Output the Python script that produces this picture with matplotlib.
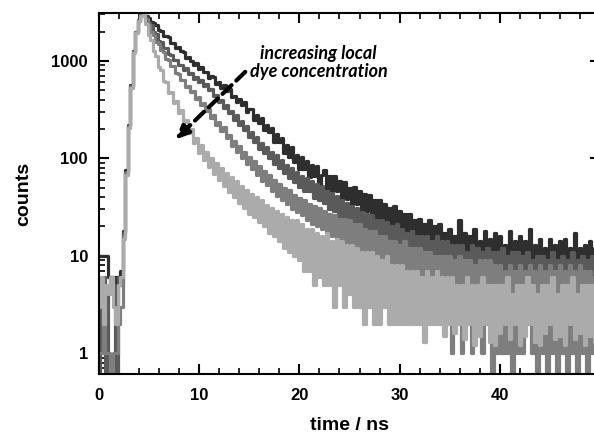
import numpy as np
import matplotlib.pyplot as plt
from matplotlib.ticker import MultipleLocator, LogLocator, NullFormatter

# TCSPC bins, 0.25 ns wide, 0 .. 49.75 ns
time_ns = np.arange(200) * 0.25

# counts (darkest = lowest dye concentration)
counts_1 = [
    10, 10, 10, 10, 6, 6, 5, 6, 6, 7, 18, 75, 220, 560, 1250, 2000, 2600, 2950, 3000, 2860,
    2740, 2490, 2420, 2320, 2050, 2020, 1810, 1820, 1740, 1540, 1510, 1360, 1390, 1250, 1245, 1080, 1100, 1005, 910, 950,
    830, 865, 760, 775, 670, 700, 685, 580, 600, 525, 560, 485, 515, 425, 440, 377, 410, 350, 375, 302,
    320, 317, 245, 280, 230, 257, 195, 222, 185, 203, 147, 177, 147, 163, 114, 138, 103, 129, 92, 108,
    77, 102, 77, 93, 64, 85, 66, 83, 55, 68, 75, 48, 66, 46, 66, 46, 59, 38, 57, 38,
    50, 34, 51, 34, 46, 27, 43, 29, 42, 24, 37, 23, 37, 23, 34, 19, 31, 19, 32, 18,
    29, 16, 27, 17, 27, 14, 23, 13, 24, 14, 21, 11, 23, 11, 20, 11, 21, 10, 17, 8,
    19, 11, 16, 8, 23, 9, 17, 8, 16, 11, 19, 9, 14, 7, 18, 9, 15, 8, 17, 10,
    16, 7, 13, 8, 18, 8, 14, 7, 16, 9, 14, 6, 19, 7, 13, 8, 15, 6, 12, 7,
    15, 8, 13, 6, 14, 7, 15, 8, 12, 6, 17, 7, 12, 6, 13, 7, 14, 6, 12, 7]
counts_2 = [
    0, 5, 6, 0, 4, 6, 5, 0, 6, 5, 17, 72, 215, 550, 1230, 1980, 2580, 2940, 3000, 2750,
    2450, 2310, 1970, 1870, 1610, 1550, 1350, 1340, 1170, 1155, 1010, 1025, 905, 910, 810, 835, 735, 755, 655, 685,
    610, 635, 550, 575, 500, 520, 435, 450, 375, 400, 330, 355, 290, 305, 250, 275, 220, 243, 195, 212,
    167, 188, 146, 165, 125, 145, 114, 132, 100, 116, 88, 107, 80, 96, 70, 86, 63, 79, 57, 72,
    51, 66, 46, 62, 46, 59, 39, 54, 37, 52, 35, 46, 30, 44, 29, 41, 25, 37, 24, 35,
    21, 32, 20, 31, 18, 28, 16, 27, 16, 26, 15, 23, 12, 23, 13, 22, 11, 20, 11, 21,
    11, 19, 9, 17, 9, 18, 9, 16, 7, 16, 9, 16, 6, 14, 8, 16, 7, 14, 6, 14,
    7, 13, 6, 13, 5, 13, 6, 11, 5, 13, 6, 12, 5, 11, 5, 12, 5, 11, 4, 11,
    5, 12, 5, 10, 4, 11, 6, 11, 4, 10, 5, 11, 4, 9, 3, 10, 5, 10, 3, 9,
    4, 11, 5, 9, 3, 10, 4, 9, 4, 11, 5, 9, 3, 10, 4, 9, 4, 10, 5, 9]
counts_3 = [
    1, 1, 2, 1, 1, 0, 1, 1, 2, 3, 16, 70, 210, 540, 1220, 1960, 2570, 2930, 3000, 2650,
    2340, 1980, 1830, 1570, 1490, 1290, 1235, 1055, 1030, 890, 880, 745, 730, 630, 630, 540, 555, 475, 485, 410,
    425, 350, 370, 305, 320, 260, 278, 222, 238, 190, 208, 160, 175, 135, 152, 117, 133, 100, 116, 87,
    102, 77, 93, 68, 83, 59, 74, 53, 67, 46, 60, 41, 55, 37, 50, 34, 47, 30, 42, 28,
    39, 26, 37, 23, 34, 21, 32, 20, 31, 19, 29, 17, 27, 16, 26, 15, 24, 14, 24, 13,
    23, 12, 21, 12, 21, 11, 19, 10, 18, 10, 18, 8, 16, 8, 16, 6, 14, 7, 14, 5,
    13, 6, 14, 4, 12, 5, 12, 4, 12, 3, 11, 4, 11, 3, 10, 4, 10, 2, 10, 3,
    10, 1, 9, 3, 10, 1, 9, 2, 9, 1, 8, 2, 9, 1, 9, 2, 9, 0, 8, 1,
    8, 1, 7, 1, 8, 0, 7, 1, 8, 1, 7, 2, 8, 1, 7, 0, 8, 1, 7, 0,
    8, 1, 7, 0, 8, 1, 7, 0, 8, 1, 7, 0, 8, 1, 7, 0, 7, 1, 6, 0]
counts_4 = [
    3, 6, 2, 5, 4, 6, 3, 2, 5, 6, 15, 68, 205, 530, 1200, 1950, 2550, 2920, 3000, 2400,
    1840, 1620, 1260, 1120, 860, 800, 615, 600, 470, 477, 370, 383, 295, 313, 235, 248, 180, 199, 142, 162,
    113, 136, 95, 117, 81, 101, 69, 90, 60, 79, 52, 70, 45, 64, 40, 58, 35, 52, 31, 47,
    27, 43, 25, 40, 22, 37, 20, 33, 17, 31, 16, 29, 14, 27, 12, 25, 11, 23, 10, 23,
    9, 21, 7, 19, 7, 19, 5, 17, 6, 16, 5, 17, 5, 14, 3, 15, 5, 14, 3, 13,
    4, 13, 3, 12, 3, 11, 2, 11, 3, 11, 2, 10, 2, 9, 3, 10, 2, 8, 2, 8,
    2, 8, 2, 7, 2, 7, 2, 7, 2, 6, 1.3, 7, 2, 6, 2, 7, 2, 6, 1.5, 6,
    2, 6, 1.6, 5, 2, 5, 1.4, 6, 2, 5, 1.2, 5, 1.5, 6, 2, 5, 1.3, 5, 1.2, 5,
    1.6, 5, 2, 6, 1.4, 4, 2, 5, 1.2, 5, 1.5, 6, 2, 5, 1.3, 4, 1.2, 5, 1.6, 5,
    2, 6, 1.4, 4, 1.5, 5, 1.2, 5, 2, 6, 1.4, 4, 1.6, 5, 1.2, 5, 1.5, 5, 1.3, 4]

series = [counts_1, counts_2, counts_3, counts_4]
colors = ['#2e2e2e', '#5a5a5a', '#7e7e7e', '#ababab']

y_ticks = [1, 10, 100, 1000]
y_tick_labels = ['1', '10', '100', '1000']
x_ticks = [0, 10, 20, 30, 40]

plt.rcParams['font.family'] = ['Liberation Sans', 'DejaVu Sans']

fig = plt.figure(figsize=(5.94, 4.42), dpi=100)
ax = fig.add_axes([99 / 594, 68 / 442, 501 / 594, 361 / 442])

for vals, col in zip(series, colors):
    ax.plot(time_ns, vals, color=col, lw=2.3, drawstyle='steps-mid')

ax.set_yscale('log')
ax.set_xlim(0, 50)
ax.set_ylim(0.61, 3100)

ax.set_xticks(x_ticks)
ax.xaxis.set_minor_locator(MultipleLocator(2))
ax.set_yticks(y_ticks)
ax.set_yticklabels(y_tick_labels)
ax.yaxis.set_minor_locator(LogLocator(base=10, subs=np.arange(2, 10)))
ax.yaxis.set_minor_formatter(NullFormatter())

ax.tick_params(which='both', direction='in', top=True, right=True, width=1.5)
ax.tick_params(which='major', length=7.5)
ax.tick_params(which='minor', length=4.5, width=1.2)
ax.tick_params(axis='x', which='major', pad=10, labelsize=12)
ax.tick_params(axis='y', which='major', pad=8, labelsize=12)
for lab in ax.get_xticklabels() + ax.get_yticklabels():
    lab.set_fontweight('bold')
for sp in ax.spines.values():
    sp.set_linewidth(1.5)

ax.set_xlabel('time / ns', fontsize=14, fontweight='bold', labelpad=10)
ax.set_ylabel('counts', fontsize=14, fontweight='bold', labelpad=14)

ax.annotate('', xy=(7.6, 155), xytext=(14.6, 771),
            arrowprops=dict(arrowstyle='-|>,head_width=0.35,head_length=0.8',
                            lw=3, ls=(0, (3, 1.6)), color='black',
                            shrinkA=0, shrinkB=0))
ax.text(21.9, 960, 'increasing local\ndye concentration', ha='center', va='center',
        fontsize=13, style='italic', fontweight='bold', family='Lato',
        linespacing=1.1)

fig.savefig('out.png', dpi=100)
